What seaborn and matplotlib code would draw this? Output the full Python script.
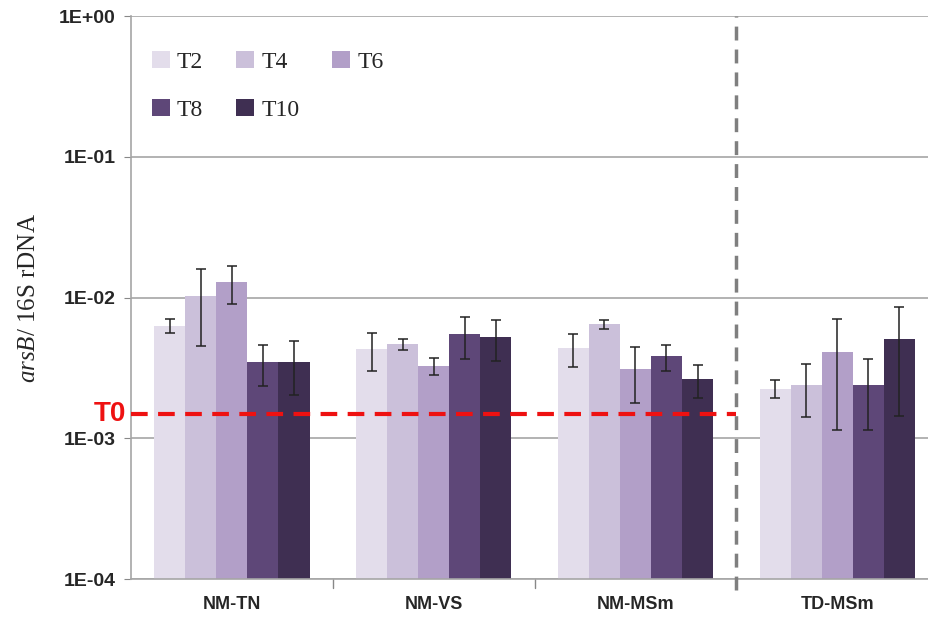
import numpy as np
import pandas as pd
import matplotlib
matplotlib.use("Agg")
import matplotlib.pyplot as plt
import seaborn as sns

sites = ["NM-TN", "NM-VS", "NM-MSm", "TD-MSm"]
times = ["T2", "T4", "T6", "T8", "T10"]

# mean arsB/16S ratio per site, one list per time point
T2 = [6.3e-3, 4.3e-3, 4.35e-3, 2.26e-3]
T4 = [1.02e-2, 4.67e-3, 6.47e-3, 2.38e-3]
T6 = [1.29e-2, 3.27e-3, 3.10e-3, 4.11e-3]
T8 = [3.49e-3, 5.47e-3, 3.83e-3, 2.41e-3]
T10 = [3.49e-3, 5.23e-3, 2.63e-3, 5.04e-3]

# standard deviations (error bar half-lengths)
T2_sd = [0.7e-3, 1.3e-3, 1.15e-3, 0.33e-3]
T4_sd = [5.7e-3, 0.4e-3, 0.5e-3, 0.97e-3]
T6_sd = [3.9e-3, 0.44e-3, 1.33e-3, 2.96e-3]
T8_sd = [1.13e-3, 1.8e-3, 0.8e-3, 1.26e-3]
T10_sd = [1.45e-3, 1.7e-3, 0.71e-3, 3.6e-3]

t0_level = 1.48e-3

colors = ["#E3DDEB", "#CBC0DA", "#B29FC8", "#5E4778", "#3F2F52"]

means = [T2, T4, T6, T8, T10]
sds = [T2_sd, T4_sd, T6_sd, T8_sd, T10_sd]
rows = []
for t, m, s in zip(times, means, sds):
    for site, v, e in zip(sites, m, s):
        rows.append({"site": site, "time": t, "ratio": v, "sd": e})
df = pd.DataFrame(rows)

sns.set_style("white")
plt.rcParams["font.family"] = ["Liberation Sans", "DejaVu Sans"]
plt.rcParams["mathtext.fontset"] = "custom"
plt.rcParams["mathtext.it"] = "Liberation Serif:italic"
plt.rcParams["mathtext.rm"] = "Liberation Serif"

fig = plt.figure(figsize=(9.29, 6.2), dpi=100)
ax = fig.add_axes([0.141, 0.066, 0.859, 0.908])

# grid behind bars
for k in range(-4, 1):
    ax.axhline(10.0 ** k, color="#A6A6A6", lw=1.2, zorder=0)

sns.barplot(data=df, x="site", y="ratio", hue="time", order=sites,
            hue_order=times, palette=colors, width=0.77, errorbar=None,
            ax=ax, zorder=2, edgecolor="none", saturation=1)

# error bars on each bar
for cont, t in zip(ax.containers, times):
    sub = df[df["time"] == t].set_index("site").loc[sites]
    xs = [p.get_x() + p.get_width() / 2 for p in cont.patches]
    ax.errorbar(xs, sub["ratio"], yerr=sub["sd"], fmt="none", ecolor="#222222",
                elinewidth=1.1, capsize=3.5, capthick=1.1, zorder=3)

ax.set_yscale("log")
ax.set_ylim(1e-4, 1)
ax.set_xlim(-0.5, 3.455)
ax.set_yticks([1e-4, 1e-3, 1e-2, 1e-1, 1])
ax.set_yticklabels(["1E-04", "1E-03", "1E-02", "1E-01", "1E+00"])
ax.yaxis.set_minor_locator(matplotlib.ticker.NullLocator())
ax.tick_params(axis="y", labelsize=14, length=5, color="#888888", direction="out",
               left=True, pad=6)
for lab in ax.get_yticklabels():
    lab.set_fontweight("bold")
ax.set_xticks([0, 1, 2, 3])
ax.set_xticklabels(sites, fontsize=13, fontweight="bold")
ax.tick_params(axis="x", length=0, pad=12)
# small ticks at category boundaries
for b in [0.5, 1.5, 2.5]:
    ax.plot([b, b], [1e-4, 10 ** -4.06], color="#888888", lw=1, clip_on=False)

for side in ["top", "right"]:
    ax.spines[side].set_visible(False)
for side in ["left", "bottom"]:
    ax.spines[side].set_color("#A6A6A6")
    ax.spines[side].set_linewidth(1.2)

ax.set_xlabel("")
ax.set_ylabel(r"$\it{arsB}$/ 16S rDNA", fontsize=18, family="Liberation Serif",
              labelpad=14)

# T0 reference line
ax.plot([-0.5, 2.5], [t0_level, t0_level], color="#EE1111", lw=3,
        dashes=(4, 2.5), zorder=4)
ax.text(-0.525, t0_level, "T0", color="#EE1111", fontsize=20, fontweight="bold",
        ha="right", va="center")

# divider between groups
ax.plot([2.5, 2.5], [10 ** -4.08, 1], color="#7F7F7F", lw=2.5, dashes=(4, 2.6),
        clip_on=False, zorder=4)

# legend filled row by row: T2 T4 T6 / T8 T10
handles, labels = ax.get_legend_handles_labels()
order = [0, 3, 1, 4, 2]
leg = ax.legend([handles[i] for i in order], [labels[i] for i in order],
                ncol=3, loc="upper left", bbox_to_anchor=(0.0, 0.976),
                frameon=False, prop={"family": "Liberation Serif", "size": 17},
                handlelength=0.75, handleheight=0.75, handletextpad=0.3,
                columnspacing=1.4, labelspacing=1.1)

fig.savefig("out.png", dpi=100)
